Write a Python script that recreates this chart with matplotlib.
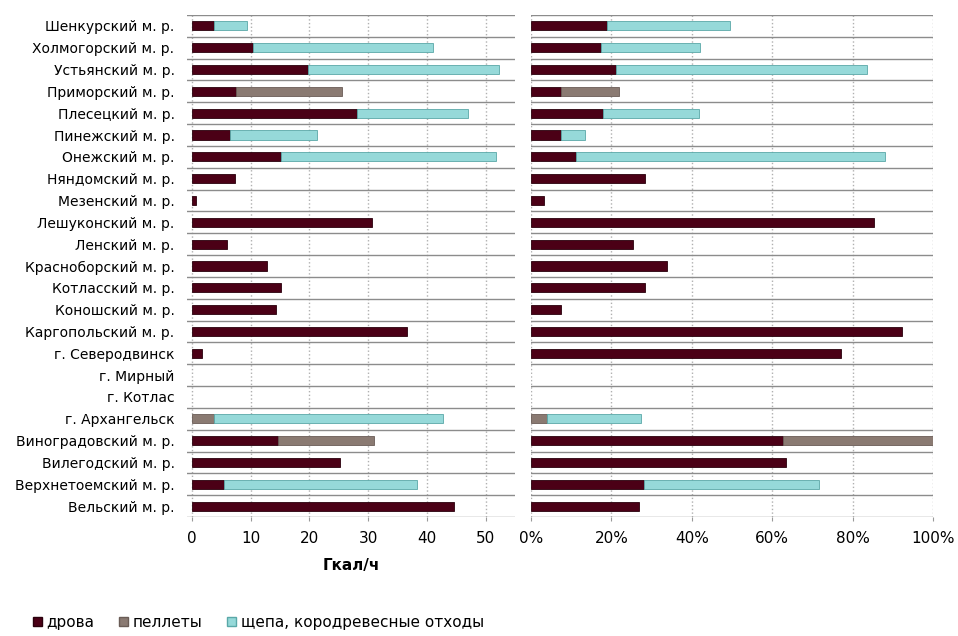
import numpy as np
import matplotlib
matplotlib.use('Agg')
import matplotlib.pyplot as plt
from matplotlib.patches import Patch

# Районы (сверху вниз)
districts = ['Шенкурский м. р.', 'Холмогорский м. р.', 'Устьянский м. р.', 'Приморский м. р.',
             'Плесецкий м. р.', 'Пинежский м. р.', 'Онежский м. р.', 'Няндомский м. р.',
             'Мезенский м. р.', 'Лешуконский м. р.', 'Ленский м. р.', 'Красноборский м. р.',
             'Котласский м. р.', 'Коношский м. р.', 'Каргопольский м. р.', 'г. Северодвинск',
             'г. Мирный', 'г. Котлас', 'г. Архангельск', 'Виноградовский м. р.',
             'Вилегодский м. р.', 'Верхнетоемский м. р.', 'Вельский м. р.']

# Гкал/ч
drova_abs   = [3.7, 10.4, 19.7, 7.5, 28.1, 6.4, 15.2, 7.4, 0.7, 30.6, 5.9, 12.7,
               15.2, 14.3, 36.6, 1.75, 0, 0, 0, 14.6, 25.2, 5.5, 44.6]
pellets_abs = [0, 0, 0, 18.0, 0, 0, 0, 0, 0, 0, 0, 0,
               0, 0, 0, 0, 0, 0, 3.7, 16.4, 0, 0, 0]
chips_abs   = [5.75, 30.7, 32.6, 0, 18.9, 14.9, 36.5, 0, 0, 0, 0, 0,
               0, 0, 0, 0, 0, 0, 39.1, 0, 0, 32.8, 0]

# доли, %
drova_pct   = [18.8, 17.3, 21.1, 7.4, 17.8, 7.4, 11.3, 28.3, 3.2, 85.3, 25.4, 33.9,
               28.3, 7.5, 92.4, 77.2, 0, 0, 0, 62.7, 63.5, 28.1, 26.8]
pellets_pct = [0, 0, 0, 14.5, 0, 0, 0, 0, 0, 0, 0, 0,
               0, 0, 0, 0, 0, 0, 4.1, 37.3, 0, 0, 0]
chips_pct   = [30.8, 24.7, 62.6, 0, 23.9, 6.1, 76.7, 0, 0, 0, 0, 0,
               0, 0, 0, 0, 0, 0, 23.2, 0, 0, 43.6, 0]

c_drova = '#4b0016'
c_pel = '#8a7a72'
c_chips = '#96d9d9'
e_chips = '#5aa8a8'

n = len(districts)
y = np.arange(n)

fig = plt.figure(figsize=(9.58, 6.36), dpi=100)
ax1 = fig.add_axes([187/958, 1-517/636, (515-187)/958, 502/636])
ax2 = fig.add_axes([531/958, 1-517/636, (933-531)/958, 502/636])


def stack(ax, d, p, c):
    d = np.array(d); p = np.array(p); c = np.array(c)
    h = 0.42
    # нулевые сегменты не рисуем
    for vals, left, fc, ec in [(d, np.zeros(n), c_drova, '#2a000c'),
                               (p, d, c_pel, '#6a5c56'),
                               (c, d + p, c_chips, e_chips)]:
        m = vals > 0
        ax.barh(y[m], vals[m], left=left[m], height=h, color=fc,
                edgecolor=ec, linewidth=0.6, zorder=3)


for ax, d, p, c in [(ax1, drova_abs, pellets_abs, chips_abs), (ax2, drova_pct, pellets_pct, chips_pct)]:
    stack(ax, d, p, c)
    ax.set_ylim(n - 0.5, -0.5)
    # линии между строками
    for b in np.arange(-0.5, n, 1):
        ax.axhline(b, color='#8c8c8c', linewidth=1.0, zorder=2)
    ax.grid(axis='x', linestyle=':', color='#b0b0b0', linewidth=1.0, zorder=1)
    for s in ax.spines.values():
        s.set_visible(False)
    ax.tick_params(axis='y', length=0)
    ax.tick_params(axis='x', length=3, color='#999999', labelsize=11, pad=7)

ax1.set_xlim(-0.85, 55)
ax1.set_xticks([0, 10, 20, 30, 40, 50])
ax1.set_yticks(y)
ax1.set_yticklabels(districts, fontsize=10)
ax1.tick_params(axis='y', pad=9)
ax1.set_xlabel('Гкал/ч', fontsize=11, fontweight='bold', labelpad=9)

ax2.set_xlim(0, 100)
ax2.set_xticks([0, 20, 40, 60, 80, 100])
ax2.set_xticklabels(['0%', '20%', '40%', '60%', '80%', '100%'])
ax2.set_yticks([])

handles = [Patch(facecolor=c_drova, edgecolor='#2a000c'),
           Patch(facecolor=c_pel, edgecolor='#6a5c56'),
           Patch(facecolor=c_chips, edgecolor=e_chips)]
fig.legend(handles, ['дрова', 'пеллеты', 'щепа, кородревесные отходы'],
           loc='lower left', bbox_to_anchor=(0.02, -0.012), ncol=3, frameon=False,
           fontsize=11, handlelength=0.6, handleheight=0.6, handletextpad=0.3,
           columnspacing=1.6)

fig.savefig('out.png', dpi=100)
